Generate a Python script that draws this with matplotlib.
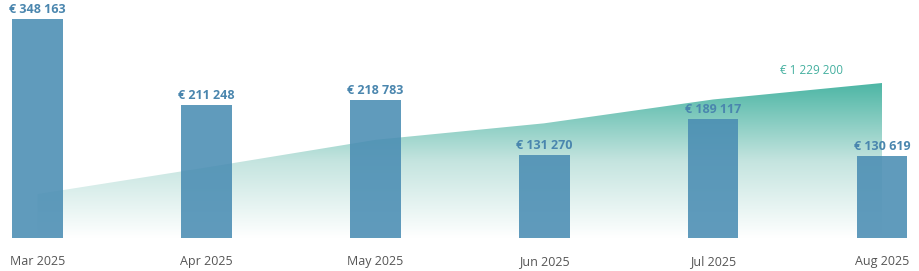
import numpy as np
import matplotlib.pyplot as plt
from matplotlib.colors import LinearSegmentedColormap

plt.rcParams['font.family'] = ['Open Sans', 'DejaVu Sans']

months = ['Mar 2025', 'Apr 2025', 'May 2025', 'Jun 2025', 'Jul 2025', 'Aug 2025']
monthly = [348163, 211248, 218783, 131270, 189117, 130619]
labels = ['€ 348 163', '€ 211 248', '€ 218 783', '€ 131 270', '€ 189 117', '€ 130 619']
total_label = '€ 1 229 200'

cumul = np.cumsum(monthly)
x = np.arange(len(months))

fig = plt.figure(figsize=(9.2, 2.71), dpi=100)
ax = fig.add_axes([0, 33 / 271, 1, 219 / 271])
ax2 = ax.twinx()
ax.set_zorder(ax2.get_zorder() + 1)
ax.patch.set_visible(False)

# cumulative area, vertical gradient
ymax2 = cumul[-1] * 219 / 155
ax2.set_ylim(0, ymax2)
poly = ax2.fill_between(x, 0, cumul, color='none', lw=0)
cmap = LinearSegmentedColormap.from_list('g', ['#ffffff', '#c4e4df', '#4db6a5'])
grad = np.linspace(0, 1, 256).reshape(-1, 1)
img = ax2.imshow(grad, cmap=cmap, origin='lower', aspect='auto',
                 extent=[x[0], x[-1], 0, cumul[-1]], zorder=1)
img.set_clip_path(poly.get_paths()[0], transform=ax2.transData)
ax2.annotate(total_label, (x[-1], cumul[-1]), xytext=(-71, 12), textcoords='offset pixels',
             ha='center', va='center', fontsize=8.5, color='#45b0a0')

# monthly bars
bars = ax.bar(x, monthly, width=0.3, color='#4a8db3', alpha=0.88, zorder=3)
for xi, v, lab in zip(x, monthly, labels):
    ax.annotate(lab, (xi, v), xytext=(0, 3), textcoords='offset pixels',
                ha='center', va='bottom', fontsize=9, fontweight='bold', color='#4a86ae')

ax.set_ylim(0, max(monthly))
ax.set_xlim(-37.5 / 169, 5 + 38 / 169)
ax2.set_xlim(ax.get_xlim())
ax.set_xticks(x)
ax.set_xticklabels(months, fontsize=9, color='#555555')
ax.tick_params(axis='x', length=0, pad=12.5)
ax.set_yticks([])
ax2.set_yticks([])
for a in (ax, ax2):
    for s in a.spines.values():
        s.set_visible(False)

fig.savefig('out.png', dpi=100)
